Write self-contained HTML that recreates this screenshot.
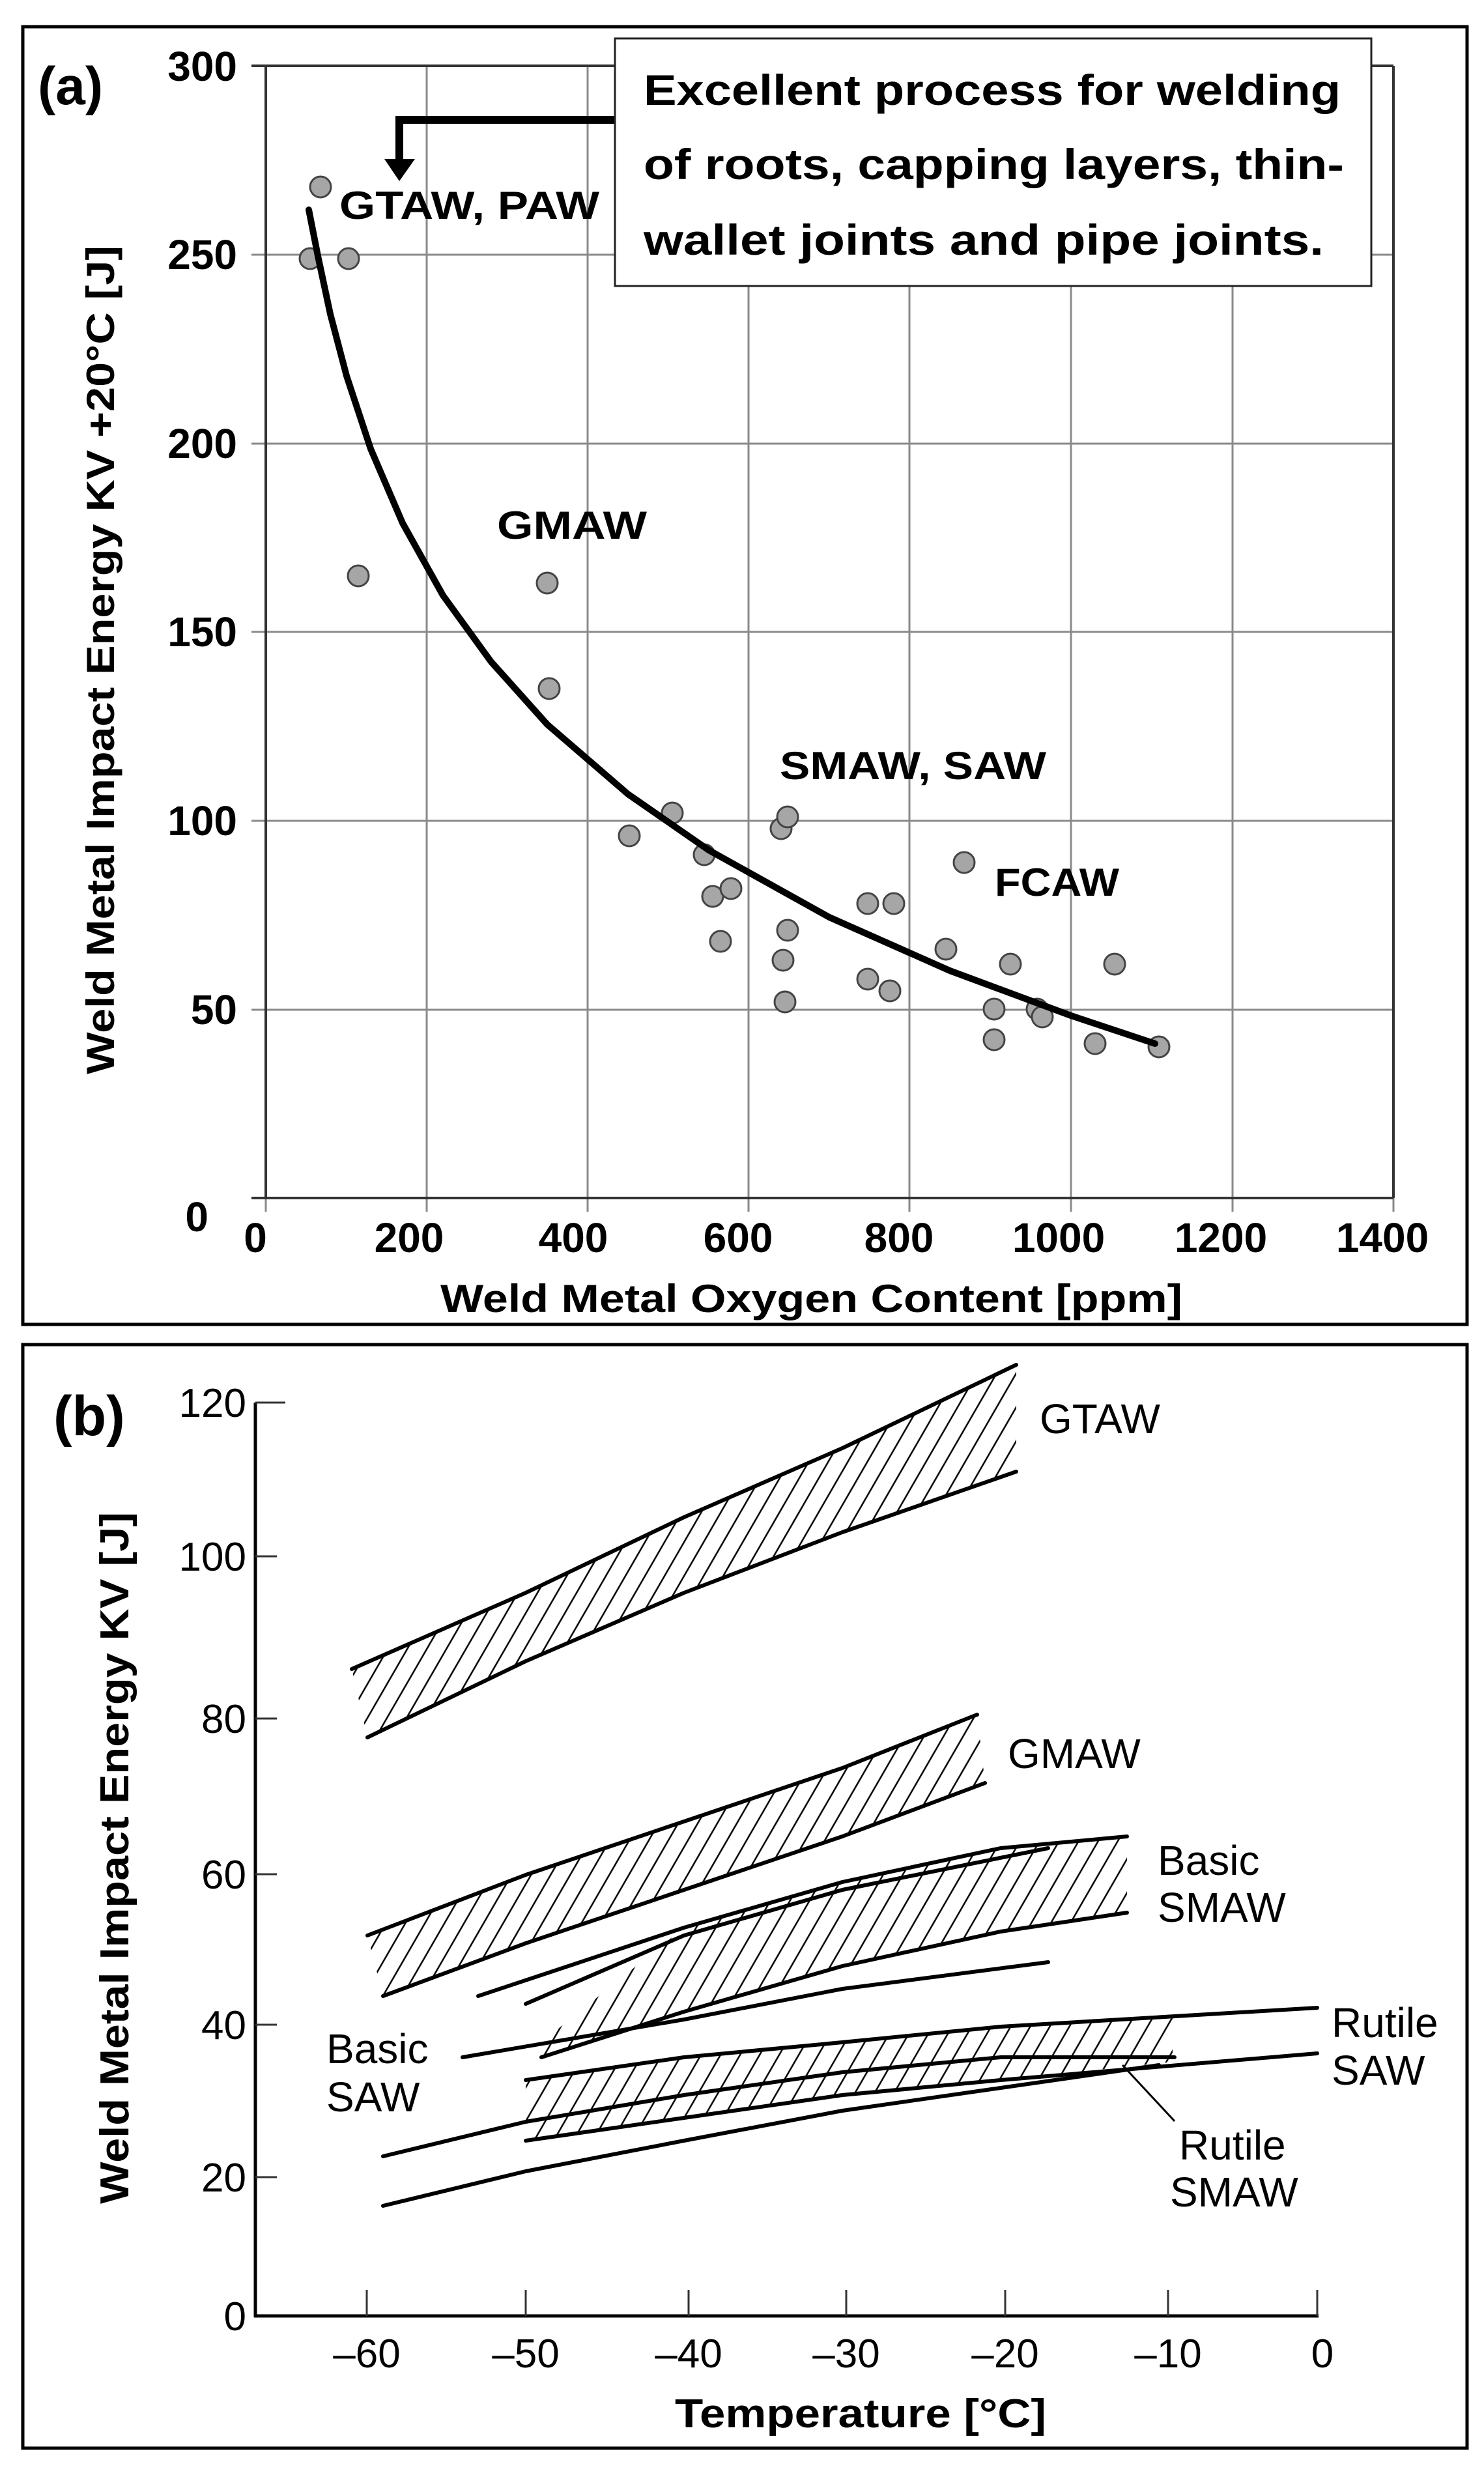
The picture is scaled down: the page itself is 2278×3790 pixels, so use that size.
<!DOCTYPE html>
<html><head><meta charset="utf-8">
<style>
html,body{margin:0;padding:0;background:#fff;}
svg{display:block;}
.a{font-family:"Liberation Sans",sans-serif;font-weight:bold;fill:#000;}
.b{font-family:"Liberation Sans",sans-serif;fill:#000;}
</style></head>
<body>
<svg width="2278" height="3790" viewBox="0 0 2278 3790" xmlns="http://www.w3.org/2000/svg">
<defs>
<pattern id="h" width="26" height="26" patternUnits="userSpaceOnUse" patternTransform="rotate(30)">
<line x1="13" y1="0" x2="13" y2="26" stroke="#000" stroke-width="2.5"/>
</pattern>
</defs>
<rect x="0" y="0" width="2278" height="3790" fill="#fff"/>
<rect x="35" y="41" width="2217" height="1992" fill="none" stroke="#000" stroke-width="5"/>
<rect x="35" y="2064" width="2217" height="1694" fill="none" stroke="#000" stroke-width="5"/>

<!-- ===== Panel (a) ===== -->
<g stroke="#8a8a8a" stroke-width="3">
<line x1="386" y1="391" x2="2139" y2="391"/>
<line x1="386" y1="681" x2="2139" y2="681"/>
<line x1="386" y1="970" x2="2139" y2="970"/>
<line x1="386" y1="1260" x2="2139" y2="1260"/>
<line x1="386" y1="1550" x2="2139" y2="1550"/>
<line x1="655" y1="101" x2="655" y2="1860"/>
<line x1="902" y1="101" x2="902" y2="1860"/>
<line x1="1149" y1="101" x2="1149" y2="1860"/>
<line x1="1396" y1="101" x2="1396" y2="1860"/>
<line x1="1644" y1="101" x2="1644" y2="1860"/>
<line x1="1892" y1="101" x2="1892" y2="1860"/>
<line x1="2139" y1="1839" x2="2139" y2="1860"/>
<line x1="408" y1="1839" x2="408" y2="1860"/>
</g>
<g stroke="#333" stroke-width="4" fill="none">
<line x1="386" y1="101" x2="2139" y2="101"/>
<line x1="386" y1="1839" x2="2139" y2="1839"/>
<line x1="408" y1="101" x2="408" y2="1839"/>
<line x1="2139" y1="101" x2="2139" y2="1839"/>
</g>
<g fill="#a6a6a6" stroke="#444" stroke-width="3">
<circle cx="476" cy="397" r="16"/><circle cx="492" cy="287" r="16"/><circle cx="535" cy="397" r="16"/>
<circle cx="550" cy="884" r="16"/><circle cx="840" cy="895" r="16"/><circle cx="843" cy="1057" r="16"/>
<circle cx="966" cy="1283" r="16"/><circle cx="1032" cy="1248" r="16"/><circle cx="1081" cy="1312" r="16"/>
<circle cx="1094" cy="1376" r="16"/><circle cx="1106" cy="1445" r="16"/><circle cx="1122" cy="1364" r="16"/>
<circle cx="1199" cy="1272" r="16"/><circle cx="1209" cy="1254" r="16"/><circle cx="1202" cy="1474" r="16"/>
<circle cx="1209" cy="1428" r="16"/><circle cx="1205" cy="1538" r="16"/><circle cx="1332" cy="1387" r="16"/>
<circle cx="1372" cy="1387" r="16"/><circle cx="1332" cy="1503" r="16"/><circle cx="1366" cy="1521" r="16"/>
<circle cx="1452" cy="1457" r="16"/><circle cx="1480" cy="1324" r="16"/><circle cx="1526" cy="1549" r="16"/>
<circle cx="1526" cy="1596" r="16"/><circle cx="1551" cy="1480" r="16"/><circle cx="1592" cy="1549" r="16"/>
<circle cx="1600" cy="1561" r="16"/><circle cx="1681" cy="1602" r="16"/><circle cx="1711" cy="1480" r="16"/>
<circle cx="1779" cy="1607" r="16"/>
</g>
<polyline points="474,322 488,393 507,482 532,577 569,689 618,803 680,914 754,1016 840,1112 964,1219 1088,1305 1273,1408 1458,1490 1644,1559 1773,1602" fill="none" stroke="#000" stroke-width="10" stroke-linecap="round" stroke-linejoin="round"/>
<polyline points="944,184 613,184 613,248" fill="none" stroke="#000" stroke-width="12"/>
<polygon points="590,244 637,244 613,278" fill="#000"/>
<rect x="944" y="59" width="1161" height="380" fill="#fff" stroke="#222" stroke-width="3"/>
<text class="a" x="988" y="161" font-size="66" textLength="1070" lengthAdjust="spacingAndGlyphs">Excellent process for welding</text>
<text class="a" x="988" y="275" font-size="66" textLength="1075" lengthAdjust="spacingAndGlyphs">of roots, capping layers, thin-</text>
<text class="a" x="988" y="391" font-size="66" textLength="1044" lengthAdjust="spacingAndGlyphs">wallet joints and pipe joints.</text>
<text class="a" x="521" y="336" font-size="60" textLength="399" lengthAdjust="spacingAndGlyphs">GTAW, PAW</text>
<text class="a" x="763" y="827" font-size="60" textLength="230" lengthAdjust="spacingAndGlyphs">GMAW</text>
<text class="a" x="1197" y="1196" font-size="60" textLength="409" lengthAdjust="spacingAndGlyphs">SMAW, SAW</text>
<text class="a" x="1527" y="1375" font-size="60" textLength="191" lengthAdjust="spacingAndGlyphs">FCAW</text>
<text class="a" x="58" y="160" font-size="82">(a)</text>
<g class="a" font-size="64" text-anchor="end">
<text x="364" y="124">300</text>
<text x="364" y="413">250</text>
<text x="364" y="703">200</text>
<text x="364" y="992">150</text>
<text x="364" y="1282">100</text>
<text x="364" y="1572">50</text>
<text x="320" y="1890">0</text>
</g>
<g class="a" font-size="64" text-anchor="middle">
<text x="392" y="1922">0</text>
<text x="628" y="1922">200</text>
<text x="880" y="1922">400</text>
<text x="1133" y="1922">600</text>
<text x="1380" y="1922">800</text>
<text x="1625" y="1922">1000</text>
<text x="1874" y="1922">1200</text>
<text x="2122" y="1922">1400</text>
</g>
<text class="a" x="676" y="2014" font-size="60" textLength="1139" lengthAdjust="spacingAndGlyphs">Weld Metal Oxygen Content  [ppm]</text>
<text class="a" x="0" y="0" font-size="60" textLength="1272" lengthAdjust="spacingAndGlyphs" transform="translate(175,1649) rotate(-90)">Weld Metal Impact Energy KV +20°C  [J]</text>

<!-- ===== Panel (b) ===== -->
<text class="a" x="82" y="2203" font-size="86">(b)</text>
<g stroke="#000" stroke-width="5" fill="none">
<line x1="392" y1="2153" x2="392" y2="3557"/>
<line x1="390" y1="3555" x2="2024" y2="3555"/>
</g>
<g stroke="#333" stroke-width="3">
<line x1="392" y1="2153" x2="438" y2="2153"/>
<line x1="392" y1="2389" x2="425" y2="2389"/>
<line x1="392" y1="2638" x2="425" y2="2638"/>
<line x1="392" y1="2877" x2="425" y2="2877"/>
<line x1="392" y1="3108" x2="425" y2="3108"/>
<line x1="392" y1="3342" x2="425" y2="3342"/>
<line x1="563" y1="3555" x2="563" y2="3515"/>
<line x1="807" y1="3555" x2="807" y2="3515"/>
<line x1="1057" y1="3555" x2="1057" y2="3515"/>
<line x1="1299" y1="3555" x2="1299" y2="3515"/>
<line x1="1543" y1="3555" x2="1543" y2="3515"/>
<line x1="1793" y1="3555" x2="1793" y2="3515"/>
<line x1="2022" y1="3555" x2="2022" y2="3515"/>
</g>
<g class="b" font-size="62" text-anchor="end">
<text x="378" y="2175">120</text>
<text x="378" y="2411">100</text>
<text x="378" y="2660">80</text>
<text x="378" y="2899">60</text>
<text x="378" y="3130">40</text>
<text x="378" y="3364">20</text>
<text x="378" y="3577">0</text>
</g>
<g class="b" font-size="62" text-anchor="middle">
<text x="563" y="3634">–60</text>
<text x="807" y="3634">–50</text>
<text x="1057" y="3634">–40</text>
<text x="1299" y="3634">–30</text>
<text x="1543" y="3634">–20</text>
<text x="1793" y="3634">–10</text>
<text x="2030" y="3634">0</text>
</g>
<text class="a" x="1036" y="3726" font-size="62" textLength="570" lengthAdjust="spacingAndGlyphs">Temperature  [°C]</text>
<text class="a" x="0" y="0" font-size="62" textLength="1062" lengthAdjust="spacingAndGlyphs" transform="translate(197,3383) rotate(-90)">Weld Metal Impact Energy KV  [J]</text>

<g fill="url(#h)" stroke="none">
<path d="M540,2562 L807,2445 L1050,2329 L1293,2223 L1560,2095 L1560,2259 L1293,2352 L1050,2445 L807,2550 L564,2667 Z"/>
<path d="M564,2971 L807,2878 L1050,2796 L1293,2714 L1500,2632 L1512,2737 L1293,2819 L1050,2901 L807,2983 L588,3064 Z"/>
<path d="M831,3135 L1050,2959 L1293,2889 L1536,2837 L1730,2819 L1730,2936 L1536,2965 L1293,3018 L1050,3088 L831,3158 Z"/>
<path d="M807,3193 L1050,3158 L1293,3135 L1536,3111 L1800,3095 L1800,3165 L1536,3193 L1293,3216 L1050,3251 L807,3286 Z"/>
</g>
<g fill="none" stroke="#000" stroke-width="6" stroke-linecap="round" stroke-linejoin="round">
<polyline points="540,2562 807,2445 1050,2329 1293,2223 1560,2095"/>
<polyline points="564,2667 807,2550 1050,2445 1293,2352 1560,2259"/>
<polyline points="564,2971 807,2878 1050,2796 1293,2714 1500,2632"/>
<polyline points="588,3064 807,2983 1050,2901 1293,2819 1512,2737"/>
<polyline points="734,3064 1050,2959 1293,2889 1536,2837 1730,2819"/>
<polyline points="831,3158 1050,3088 1293,3018 1536,2965 1730,2936"/>
<polyline points="807,3076 1050,2971 1293,2901 1609,2837"/>
<polyline points="710,3158 1050,3100 1293,3053 1609,3012"/>
<polyline points="807,3193 1050,3158 1293,3135 1536,3111 2022,3082"/>
<polyline points="807,3286 1050,3251 1293,3216 1536,3193 2022,3152"/>
<polyline points="588,3310 807,3257 1050,3216 1293,3181 1536,3158 1803,3158"/>
<polyline points="588,3386 807,3333 1050,3286 1293,3240 1536,3205 1779,3170"/>
</g>
<line x1="1723" y1="3170" x2="1803" y2="3256" stroke="#000" stroke-width="3"/>
<g class="b" font-size="64">
<text x="1596" y="2200">GTAW</text>
<text x="1547" y="2714">GMAW</text>
<text x="1777" y="2878">Basic</text>
<text x="1777" y="2950">SMAW</text>
<text x="2044" y="3127">Rutile</text>
<text x="2044" y="3200">SAW</text>
<text x="501" y="3167">Basic</text>
<text x="501" y="3241">SAW</text>
<text x="1810" y="3315">Rutile</text>
<text x="1796" y="3387">SMAW</text>
</g>
</svg>
</body></html>
